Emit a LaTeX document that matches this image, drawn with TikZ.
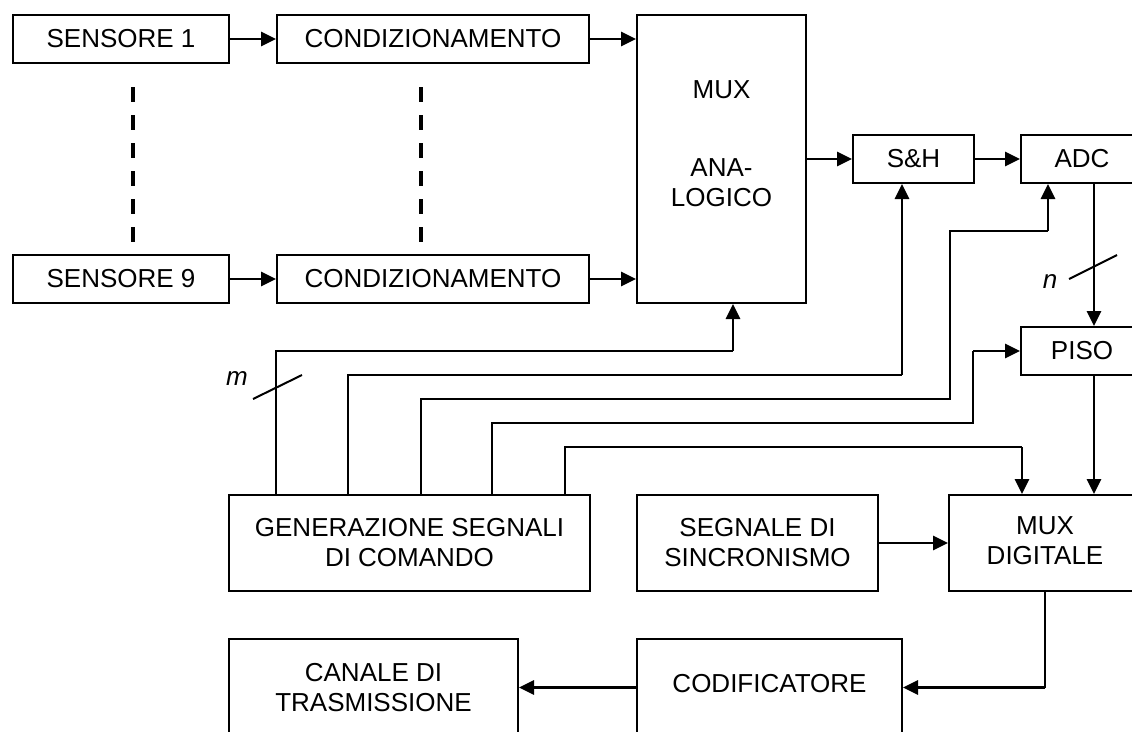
\documentclass[tikz,border=0pt]{standalone}
\usepackage{fontspec}
\setmainfont{Liberation Sans}
\usetikzlibrary{arrows.meta}
\begin{document}
\begin{tikzpicture}[x=1pt,y=-1pt,
  box/.style={draw,line width=2pt,inner sep=0pt,align=center,font=\fontsize{26}{30}\selectfont},
  txt/.style={inner sep=0pt,align=center,font=\fontsize{26}{30}\selectfont},
  wire/.style={line width=2pt},
  arr/.style={line width=2.8pt,-{Triangle[length=15pt,width=14pt]}},
  dashv/.style={line width=3.5pt,dash pattern=on 15pt off 13pt},
  slash/.style={line width=2pt}]
\useasboundingbox (0,0) rectangle (1132,731);
\clip (0,0) rectangle (1132,731);

% boxes
\node[box,minimum width=216pt,minimum height=48pt] (s1) at (121,39) {SENSORE 1};
\node[box,minimum width=312pt,minimum height=48pt] (c1) at (433,39) {CONDIZIONAMENTO};
\node[box,minimum width=216pt,minimum height=48pt] (s9) at (121,279) {SENSORE 9};
\node[box,minimum width=312pt,minimum height=48pt] (c9) at (433,279) {CONDIZIONAMENTO};
\node[box,minimum width=169pt,minimum height=288pt] (mux) at (721.5,159) {};
\node[txt] (muxt1) at (721.5,90) {MUX};
\node[txt] (muxt2) at (721.5,183) {ANA-\\LOGICO};
\node[box,minimum width=121pt,minimum height=48pt] (sh) at (913.5,159) {S\&H};
\node[box,minimum width=122pt,minimum height=48pt] (adc) at (1082,159) {ADC};
\node[box,minimum width=122pt,minimum height=48pt] (piso) at (1082,351) {PISO};
\node[box,minimum width=361pt,minimum height=96pt] (gen) at (409.5,543) {GENERAZIONE SEGNALI\\DI COMANDO};
\node[box,minimum width=241pt,minimum height=96pt] (sync) at (757.5,543) {SEGNALE DI\\SINCRONISMO};
\node[box,minimum width=192pt,minimum height=96pt] (muxd) at (1045,543) {\raisebox{9pt}{\begin{tabular}{@{}c@{}}MUX\\DIGITALE\end{tabular}}};
\node[box,minimum width=265pt,minimum height=97pt] (cod) at (769.5,687.5) {\raisebox{8pt}{CODIFICATORE}};
\node[box,minimum width=289pt,minimum height=97pt] (can) at (373.5,687.5) {CANALE DI\\TRASMISSIONE};

% dashed continuation lines
\coordinate (d1a) at (133,87); \coordinate (d1b) at (133,243);
\coordinate (d2a) at (421,87); \coordinate (d2b) at (421,243);
\draw[dashv] (d1a) -- (d1b);
\draw[dashv] (d2a) -- (d2b);

% signal chain
\draw[arr] (s1) -- (c1);
\draw[arr] (c1.east) -- (c1.east -| mux.west);
\draw[arr] (s9) -- (c9);
\draw[arr] (c9.east) -- (c9.east -| mux.west);
\draw[arr] (mux.east |- sh.west) -- (sh.west);
\draw[arr] (sh) -- (adc);
\draw[arr] ([xshift=12pt]adc.south) -- ([xshift=12pt]piso.north);
\draw[arr] ([xshift=12pt]piso.south) -- ([xshift=12pt]piso.south |- muxd.north);
\draw[arr] (sync) -- (muxd);
\coordinate (k6) at (muxd.south |- cod.east);
\draw[wire] (muxd.south) -- (k6);
\draw[arr] (k6) -- (cod.east);
\draw[arr] (cod) -- (can);

% control lines
\coordinate (g1) at ([xshift=48pt]gen.north west);
\coordinate (g2) at ([xshift=120pt]gen.north west);
\coordinate (g3) at ([xshift=193pt]gen.north west);
\coordinate (g4) at ([xshift=264pt]gen.north west);
\coordinate (g5) at ([xshift=337pt]gen.north west);
\coordinate (k1) at (733,351);
\coordinate (k2) at (902,375);
\coordinate (k3a) at (950,399);
\coordinate (k3b) at (1048,231);
\coordinate (k4a) at (973,423);
\coordinate (k4b) at (973,351);
\coordinate (k5) at (1022,447);
\draw[wire] (g1) |- (k1);
\draw[arr] (k1) -- (k1 |- mux.south);
\draw[wire] (g2) |- (k2);
\draw[arr] (k2) -- (k2 |- sh.south);
\draw[wire] (g3) |- (k3a) |- (k3b);
\draw[arr] (k3b) -- (k3b |- adc.south);
\draw[wire] (g4) |- (k4a) -- (k4b);
\draw[arr] (k4b) -- (k4b -| piso.west);
\draw[wire] (g5) |- (k5);
\draw[arr] (k5) -- (k5 |- muxd.north);

% bus width marks
\coordinate (ma) at (253,399); \coordinate (mb) at (302,375);
\draw[slash] (ma) -- (mb);
\node[txt,font=\fontsize{26}{30}\selectfont\itshape] (mlab) at (237,379) {m};
\coordinate (na) at (1069,279); \coordinate (nb) at (1117,255);
\draw[slash] (na) -- (nb);
\node[txt,font=\fontsize{26}{30}\selectfont\itshape] (nlab) at (1050,282) {n};
\end{tikzpicture}
\end{document}
